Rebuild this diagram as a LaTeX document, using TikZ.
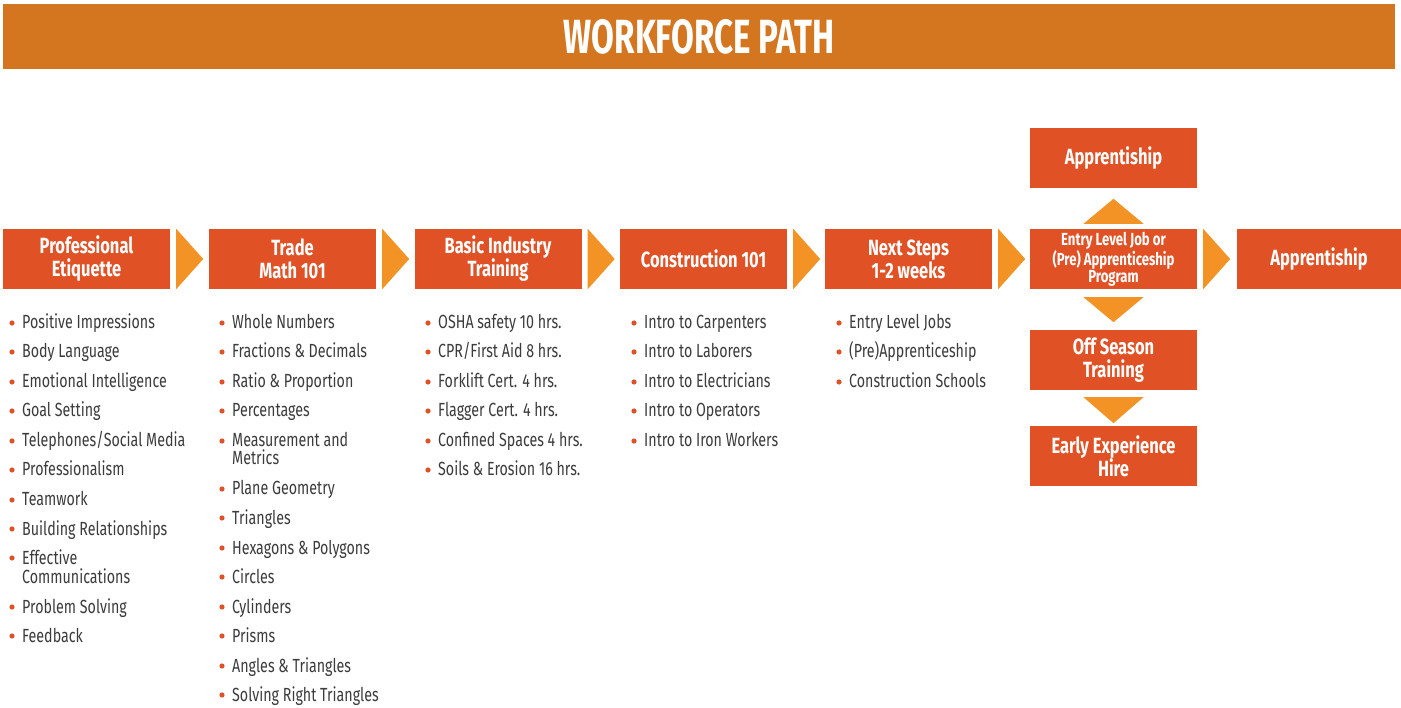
\documentclass[tikz,border=0pt]{standalone}
\usepackage{fontspec}
\setmainfont{Fira Sans}[FakeStretch=0.75]
\newfontfamily\wptitlefont{Fira Sans}[FakeStretch=0.69]
\definecolor{headc}{HTML}{D47620}
\definecolor{boxc}{HTML}{E05226}
\definecolor{arrc}{HTML}{F39325}
\definecolor{txtc}{HTML}{3C3C3C}
\newcommand\wpitem[4]{%
  \fill[boxc] (#2-10,#3+1) circle (2.6);
  \node[listtext, anchor=base west] (#1) at (#2,#3+7) {#4};
}
\newcommand\wpcont[4]{%
  \node[listtext, anchor=base west] (#1) at (#2,#3+7) {#4};
}
\begin{document}
\begin{tikzpicture}[x=1pt,y=-1pt,
  box/.style={fill=boxc, minimum width=167pt, minimum height=60pt, inner sep=0pt, text=white,
    font=\bfseries\fontsize{22}{23}\selectfont, align=center},
  listtext/.style={inner sep=0pt, text=txtc, font=\fontsize{19}{19}\selectfont},
  arrowtri/.style={fill=arrc}]
\useasboundingbox (0,0) rectangle (1401,708);
\fill[white] (0,0) rectangle (1401,708);
% header
\node[fill=headc, minimum width=1392pt, minimum height=65pt, inner sep=0pt, text=white,
  font=\wptitlefont\bfseries\fontsize{48}{50}\selectfont] (head) at (699,36.5) {WORKFORCE PATH};
% main boxes
\node[box] (b1) at (86.5,259) {Professional\\Etiquette};
\node[box] (b2) at (292.5,259) {Trade\\Math 101};
\node[box] (b3) at (498,259) {Basic Industry\\Training};
\node[box] (b4) at (703.5,259) {Construction 101};
\node[box] (b5) at (908.5,259) {Next Steps\\1-2 weeks};
\node[box, font=\bfseries\fontsize{17.5}{17}\selectfont] (b6) at (1113.5,259) {\raisebox{-3pt}{\parbox{160pt}{\centering Entry Level Job or\\(Pre) Apprenticeship\\Program}}};
\node[box, minimum width=164pt] (b7) at (1319,259) {Apprentiship};
\node[box] (up) at (1113.5,158) {Apprentiship};
\node[box] (off) at (1113.5,360) {Off Season\\Training};
\node[box] (early) at (1113.5,456) {Early Experience\\Hire};
% right arrows
\foreach \a in {b1,b2,b3,b4,b5,b6}{
  \fill[arrowtri] ([xshift=6pt]\a.north east) -- ([xshift=6pt]\a.south east) -- ([xshift=33pt]\a.east) -- cycle;
}
% vertical arrows
\fill[arrowtri] ([xshift=-30pt,yshift=5pt]b6.north) -- ([xshift=30pt,yshift=5pt]b6.north) -- ([yshift=30pt]b6.north) -- cycle;
\fill[arrowtri] ([xshift=-30pt,yshift=-8pt]b6.south) -- ([xshift=30pt,yshift=-8pt]b6.south) -- ([yshift=-33pt]b6.south) -- cycle;
\fill[arrowtri] ([xshift=-30pt,yshift=-7pt]off.south) -- ([xshift=30pt,yshift=-7pt]off.south) -- ([yshift=-33pt]off.south) -- cycle;
% column 1
\wpitem{a1}{22}{322}{Positive Impressions}
\wpitem{a2}{22}{351}{Body Language}
\wpitem{a3}{22}{381}{Emotional Intelligence}
\wpitem{a4}{22}{410}{Goal Setting}
\wpitem{a5}{22}{440}{Telephones/Social Media}
\wpitem{a6}{22}{469}{Professionalism}
\wpitem{a7}{22}{499}{Teamwork}
\wpitem{a8}{22}{528}{Building Relationships}
\wpitem{a9}{22}{557}{Effective}
\wpcont{a9b}{22}{576}{Communications}
\wpitem{a10}{22}{606}{Problem Solving}
\wpitem{a11}{22}{635}{Feedback}
% column 2
\wpitem{c1}{232}{322}{Whole Numbers}
\wpitem{c2}{232}{351}{Fractions \& Decimals}
\wpitem{c3}{232}{381}{Ratio \& Proportion}
\wpitem{c4}{232}{410}{Percentages}
\wpitem{c5}{232}{440}{Measurement and}
\wpcont{c5b}{232}{458}{Metrics}
\wpitem{c6}{232}{488}{Plane Geometry}
\wpitem{c7}{232}{517}{Triangles}
\wpitem{c8}{232}{547}{Hexagons \& Polygons}
\wpitem{c9}{232}{576}{Circles}
\wpitem{c10}{232}{606}{Cylinders}
\wpitem{c11}{232}{635}{Prisms}
\wpitem{c12}{232}{665}{Angles \& Triangles}
\wpitem{c13}{232}{694}{Solving Right Triangles}
% column 3
\wpitem{d1}{438}{322}{OSHA safety 10 hrs.}
\wpitem{d2}{438}{351}{CPR/First Aid 8 hrs.}
\wpitem{d3}{438}{381}{Forklift Cert. 4 hrs.}
\wpitem{d4}{438}{410}{Flagger Cert. 4 hrs.}
\wpitem{d5}{438}{440}{Confined Spaces 4 hrs.}
\wpitem{d6}{438}{469}{Soils \& Erosion 16 hrs.}
% column 4
\wpitem{e1}{644}{322}{Intro to Carpenters}
\wpitem{e2}{644}{351}{Intro to Laborers}
\wpitem{e3}{644}{381}{Intro to Electricians}
\wpitem{e4}{644}{410}{Intro to Operators}
\wpitem{e5}{644}{440}{Intro to Iron Workers}
% column 5
\wpitem{f1}{849}{322}{Entry Level Jobs}
\wpitem{f2}{849}{351}{(Pre)Apprenticeship}
\wpitem{f3}{849}{381}{Construction Schools}
\end{tikzpicture}
\end{document}
